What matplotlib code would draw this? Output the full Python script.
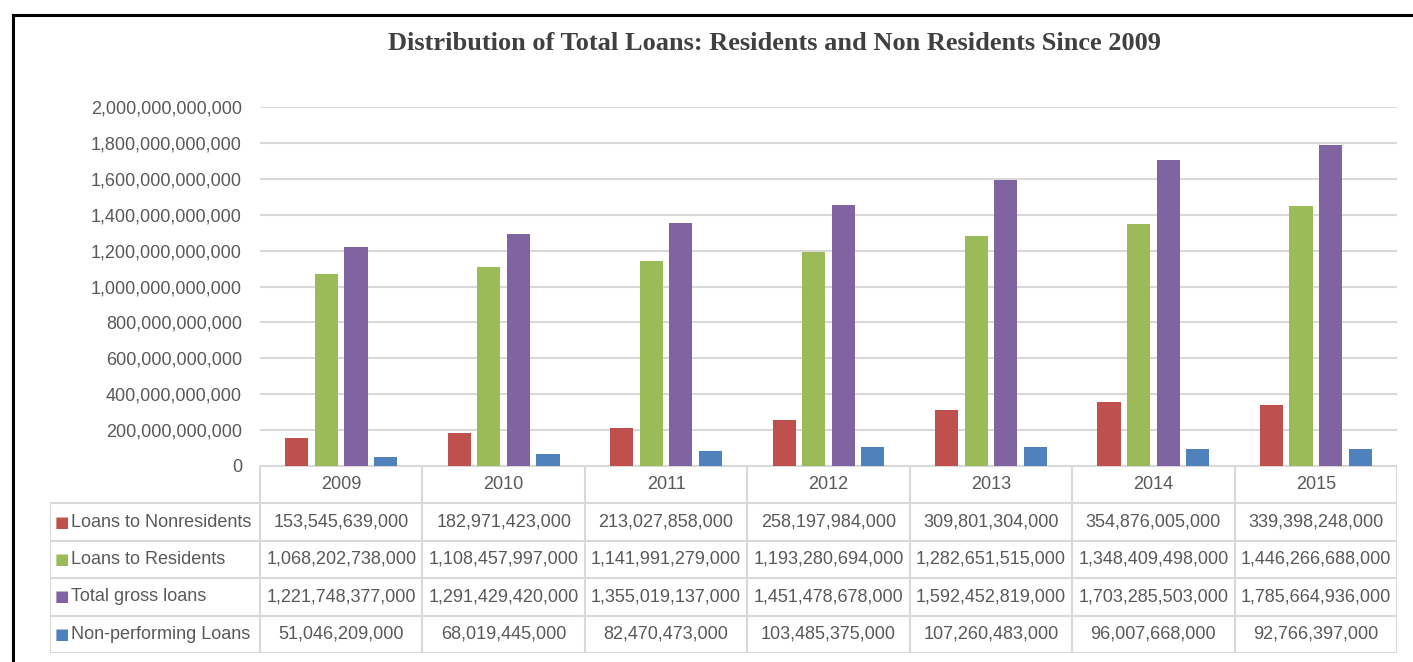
import matplotlib.pyplot as plt
from matplotlib.lines import Line2D
from matplotlib.ticker import FuncFormatter

plt.rcParams['font.family'] = ['Liberation Sans', 'DejaVu Sans']

years = ['2009', '2010', '2011', '2012', '2013', '2014', '2015']
series = ['Loans to Nonresidents', 'Loans to Residents', 'Total gross loans', 'Non-performing Loans']
nonresidents = [153545639000, 182971423000, 213027858000, 258197984000, 309801304000, 354876005000, 339398248000]
residents = [1068202738000, 1108457997000, 1141991279000, 1193280694000, 1282651515000, 1348409498000, 1446266688000]
total_gross = [1221748377000, 1291429420000, 1355019137000, 1451478678000, 1592452819000, 1703285503000, 1785664936000]
non_performing = [51046209000, 68019445000, 82470473000, 103485375000, 107260483000, 96007668000, 92766397000]
colors = ['#C0504D', '#9BBB59', '#8064A2', '#4F81BD']
title = 'Distribution of Total Loans: Residents and Non Residents Since 2009'

values = [nonresidents, residents, total_gross, non_performing]
W, H = 1413, 662
grey_txt = '#595959'
grid_c = '#D9D9D9'
fs = 13

fig = plt.figure(figsize=(W / 100, H / 100), dpi=100)

# plot area in pixel units of the image
px_l, px_r, px_t, px_b = 260, 1397, 107, 466
ax = fig.add_axes([px_l / W, 1 - px_b / H, (px_r - px_l) / W, (px_b - px_t) / H])
x = range(len(years))
bw, step = 0.142, 0.182
for i, (vals, c) in enumerate(zip(values, colors)):
    off = (i - 1.5) * step
    ax.bar([k + off for k in x], vals, width=bw, color=c, edgecolor='none', zorder=3)

ax.set_xlim(-0.5, len(years) - 0.5)
ax.set_ylim(0, 2e12)
ax.set_yticks([k * 2e11 for k in range(11)])
ax.yaxis.set_major_formatter(FuncFormatter(lambda v, p: f'{v:,.0f}'))
ax.tick_params(axis='y', length=0, pad=13, labelsize=fs, labelcolor=grey_txt)
ax.set_xticks([])
ax.grid(axis='y', color=grid_c, lw=1.5, zorder=0)
for s in ax.spines.values():
    s.set_visible(False)

# data table under the plot
cat_px = (px_r - px_l) / len(years)
lab_w = (px_l - 50) / cat_px
tb_t, tb_b = 466, 653
tax = fig.add_axes([50 / W, 1 - tb_b / H, (px_r - 50) / W, (tb_b - tb_t) / H])
tax.set_xlim(-0.5 - lab_w, len(years) - 0.5)
tax.set_ylim(5, 0)
tax.axis('off')
lkw = dict(color=grid_c, lw=1.5, solid_capstyle='butt')
tax.plot([-0.5, len(years) - 0.5], [0, 0], **lkw)
for r in range(1, 6):
    tax.plot([-0.5 - lab_w, len(years) - 0.5], [r, r], **lkw)
for k in range(len(years) + 1):
    tax.plot([k - 0.5, k - 0.5], [0, 5], **lkw)
tax.plot([-0.5 - lab_w] * 2, [1, 5], **lkw)
for k, yr in enumerate(years):
    tax.text(k, 0.5, yr, ha='center', va='center', fontsize=fs, color=grey_txt)
for i, (name, vals, c) in enumerate(zip(series, values, colors)):
    yrow = i + 1.5
    tax.text(-0.5 - lab_w + 0.03, yrow, '\u25A0', ha='left', va='center', fontsize=11, color=c,
             family='DejaVu Sans')
    tax.text(-0.5 - lab_w + 0.13, yrow, name, ha='left', va='center', fontsize=fs, color=grey_txt)
    for k, v in enumerate(vals):
        tax.text(k, yrow, f'{v:,}', ha='center', va='center', fontsize=fs, color=grey_txt)

fig.text(774 / W, 1 - 43 / H, title, ha='center', va='center', fontsize=19, fontweight='bold',
         family='Liberation Serif', color='#404040')

# outer frame
fig.add_artist(Line2D([13 / W, 1], [1 - 15 / H] * 2, color='black', lw=2.2))
fig.add_artist(Line2D([13 / W] * 2, [0, 1 - 15 / H], color='black', lw=2.2))

fig.savefig('out.png', dpi=100, facecolor='white')
